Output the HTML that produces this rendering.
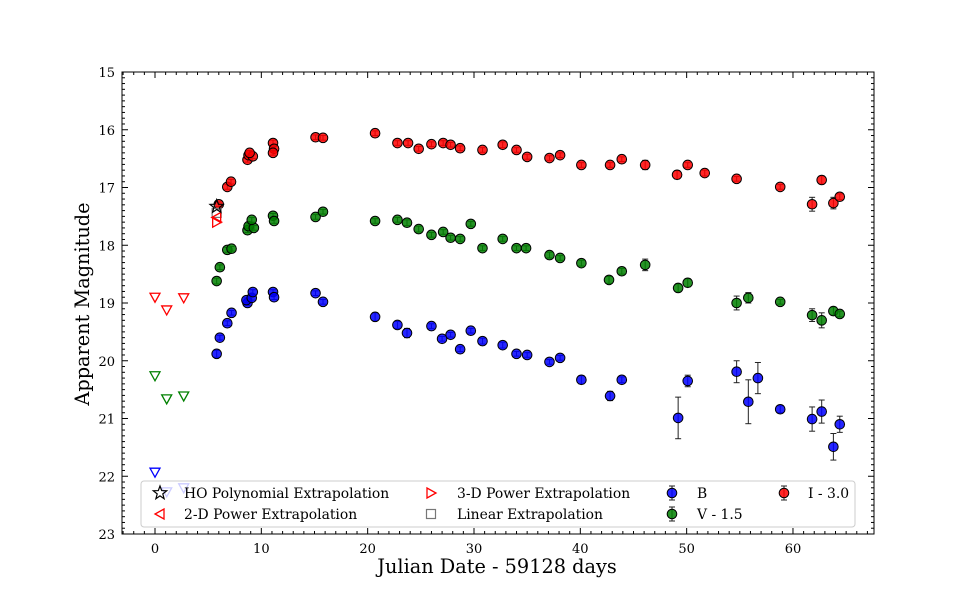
<!DOCTYPE html>
<html><head><meta charset="utf-8"><style>
html,body{margin:0;padding:0;background:#fff;}
svg{display:block;font-family:"DejaVu Serif","Liberation Serif",serif;}
</style></head><body>
<svg id="chart" width="970" height="600" viewBox="0 0 970 600" xmlns="http://www.w3.org/2000/svg"></svg>
<script>
const xTicks=[0,10,20,30,40,50,60];
const yTicks=[15,16,17,18,19,20,21,22,23];
const bDays=[5.8,6.1,6.8,7.2,8.7,8.6,9.1,9.2,11.1,11.2,15.1,15.8,20.7,22.8,23.7,26.0,27.0,27.8,28.7,29.7,30.8,32.7,34.0,35.0,37.1,38.1,40.1,42.8,43.9,49.2,50.1,54.7,55.8,56.7,58.8,61.8,62.7,63.8,64.4];
const bMag=[19.88,19.6,19.35,19.17,19.0,18.95,18.91,18.81,18.81,18.9,18.83,18.98,19.24,19.38,19.52,19.4,19.62,19.55,19.8,19.48,19.66,19.73,19.88,19.9,20.02,19.95,20.33,20.61,20.33,20.99,20.35,20.19,20.71,20.3,20.84,21.01,20.88,21.49,21.1];
const bErr=[0.06,0.04,0.04,0.04,0.04,0.04,0.04,0.04,0.04,0.04,0.04,0.04,0.07,0.06,0.08,0.04,0.04,0.04,0.04,0.04,0.05,0.05,0.04,0.04,0.04,0.04,0.07,0.08,0.05,0.36,0.1,0.19,0.38,0.27,0.06,0.21,0.2,0.23,0.14];
const vDays=[5.8,6.1,6.8,7.2,8.7,8.8,9.3,9.1,11.1,11.2,15.1,15.8,20.7,22.8,23.7,24.8,26.0,27.1,27.8,28.7,29.7,30.8,32.7,34.0,34.9,37.1,38.1,40.1,42.7,43.9,46.1,49.2,50.1,54.7,55.8,58.8,61.8,62.7,63.8,64.4];
const vMag=[18.62,18.38,18.08,18.06,17.74,17.67,17.70,17.56,17.49,17.58,17.51,17.42,17.58,17.56,17.61,17.72,17.82,17.77,17.87,17.89,17.63,18.05,17.89,18.05,18.05,18.17,18.22,18.31,18.6,18.45,18.34,18.74,18.65,19.0,18.91,18.98,19.21,19.3,19.14,19.19];
const vErr=[0.05,0.04,0.04,0.04,0.04,0.04,0.04,0.04,0.04,0.04,0.04,0.04,0.04,0.04,0.05,0.05,0.04,0.04,0.04,0.04,0.04,0.04,0.04,0.04,0.04,0.05,0.04,0.05,0.06,0.05,0.1,0.07,0.07,0.12,0.09,0.04,0.11,0.13,0.07,0.05];
const iDays=[6.0,6.8,7.15,8.7,8.8,9.2,8.9,11.1,11.2,11.1,15.1,15.8,20.7,22.8,23.8,24.8,26.0,27.1,27.8,28.7,30.8,32.7,34.0,35.0,37.1,38.1,40.1,42.8,43.9,46.1,49.1,50.1,51.7,54.7,58.8,61.8,62.7,63.8,64.4];
const iMag=[17.29,16.99,16.9,16.52,16.44,16.46,16.4,16.23,16.33,16.4,16.13,16.14,16.06,16.23,16.23,16.33,16.25,16.23,16.26,16.32,16.35,16.26,16.35,16.47,16.49,16.44,16.61,16.61,16.51,16.61,16.78,16.61,16.75,16.85,16.99,17.29,16.87,17.27,17.16];
const iErr=[0.04,0.04,0.04,0.04,0.04,0.04,0.04,0.05,0.05,0.04,0.04,0.04,0.04,0.04,0.04,0.04,0.04,0.04,0.04,0.04,0.04,0.05,0.04,0.04,0.04,0.04,0.04,0.04,0.04,0.08,0.07,0.04,0.05,0.04,0.04,0.12,0.07,0.1,0.05];
const limRedDays=[0,1.1,2.7], limRedMag=[18.9,19.12,18.91];
const limGreenDays=[0,1.1,2.7], limGreenMag=[20.26,20.66,20.61];
const limBlueDays=[0,1.1,2.7], limBlueMag=[21.93,22.27,22.2];
const starDay=[5.8], starMag=[17.33];
const sqDay=[5.8], sqMag=[17.44];
const lTriDay=[5.8], lTriMag=[17.52];
const rTriDay=[5.8], rTriMag=[17.6];

const svg=document.getElementById('chart');
const NS='http://www.w3.org/2000/svg';
const L=122,R=874,T=72,B=534;
const X=d=>155+d*10.633;
const Y=m=>T+(m-15)*(B-T)/8;
function mk(tag,attrs,parent){const e=document.createElementNS(NS,tag);for(const k in attrs)e.setAttribute(k,attrs[k]);(parent||svg).appendChild(e);return e;}

const ticks=mk('g',{});


for(let d=-3;d<=67;d++){
  const major=d%10===0, len=major?6:3, x=X(d);
  mk('line',{x1:x,x2:x,y1:B,y2:B-len,stroke:'#000','stroke-width':1},ticks);
  mk('line',{x1:x,x2:x,y1:T,y2:T+len,stroke:'#000','stroke-width':1},ticks);
}
for(let k=150;k<=230;k++){
  const m=k/10, major=k%10===0, len=major?6:3, y=Y(m);
  mk('line',{x1:L,x2:L+len,y1:y,y2:y,stroke:'#000','stroke-width':1},ticks);
  mk('line',{x1:R,x2:R-len,y1:y,y2:y,stroke:'#000','stroke-width':1},ticks);
}
xTicks.forEach(t=>{const e=mk('text',{x:X(t),y:B+19,'text-anchor':'middle','font-size':13});e.textContent=t;

});
yTicks.forEach(t=>{const e=mk('text',{x:L-7,y:Y(t)+5,'text-anchor':'end','font-size':13});e.textContent=t;

});

function tri(g,x,y,dir,col){
  const s=5;let p;
  if(dir==='down')p=[[x-s,y-s*0.8],[x+s,y-s*0.8],[x,y+s]];
  else if(dir==='left')p=[[x+s*0.8,y-s],[x+s*0.8,y+s],[x-s,y]];
  else p=[[x-s*0.8,y-s],[x-s*0.8,y+s],[x+s,y]];
  return mk('polygon',{points:p.map(q=>q.join(',')).join(' '),fill:'none',stroke:col,'stroke-width':1.3},g);
}
function limits(days,mags,col,name){
  const g=mk('g',{});
  
  
  days.forEach((d,i)=>tri(g,X(d),Y(mags[i]),'down',col));
}
limits(limRedDays,limRedMag,'#ff0000','i-band-upper-limits');
limits(limGreenDays,limGreenMag,'#008000','v-band-upper-limits');
limits(limBlueDays,limBlueMag,'#0000ff','b-band-upper-limits');

function series(days,mags,errs,col,name){
  const g=mk('g',{});
  
  
  days.forEach((d,i)=>{
    const x=X(d),y1=Y(mags[i]-errs[i]),y2=Y(mags[i]+errs[i]);
    mk('line',{x1:x,x2:x,y1:y1,y2:y2,stroke:'#222','stroke-width':1},g);
    mk('line',{x1:x-3,x2:x+3,y1:y1,y2:y1,stroke:'#222','stroke-width':1},g);
    mk('line',{x1:x-3,x2:x+3,y1:y2,y2:y2,stroke:'#222','stroke-width':1},g);
    mk('circle',{cx:x,cy:Y(mags[i]),r:4.8,fill:col,'fill-opacity':0.85,stroke:'#000','stroke-width':1},g);
  });
}
series(bDays,bMag,bErr,'#0000ff','b-band-series');
series(vDays,vMag,vErr,'#008000','v-band-series');
series(iDays,iMag,iErr,'#ff0000','i-band-series');

const ex=mk('g',{});


mk('rect',{x:X(sqDay[0])-4.5,y:Y(sqMag[0])-4.5,width:9,height:9,fill:'none',stroke:'#777','stroke-width':1.2},ex);
tri(ex,X(lTriDay[0]),Y(lTriMag[0]),'left','#ff0000');
tri(ex,X(rTriDay[0]),Y(rTriMag[0]),'right','#ff0000');
function star(g,x,y,r,col){const p=[];for(let k=0;k<10;k++){const a=-Math.PI/2+k*Math.PI/5,rr=k%2?r*0.42:r;p.push((x+rr*Math.cos(a)).toFixed(1)+','+(y+rr*Math.sin(a)).toFixed(1));}
return mk('polygon',{points:p.join(' '),fill:'none',stroke:col,'stroke-width':1.2},g);}
star(ex,X(starDay[0]),Y(starMag[0]),7,'#000');

mk('rect',{x:L,y:T,width:R-L,height:B-T,fill:'none',stroke:'#000','stroke-width':1});

// legend
const lg=mk('g',{});


mk('rect',{x:141,y:481,width:714,height:46,rx:3,fill:'#fff','fill-opacity':0.8,stroke:'#ccc','stroke-width':1},lg);
const r1=493,r2=514;
star(lg,160,r1,7,'#000');
tri(lg,160,r2,'left','#ff0000');
tri(lg,431,r1,'right','#ff0000');
mk('rect',{x:426.5,y:r2-4.5,width:9,height:9,fill:'none',stroke:'#777','stroke-width':1.2},lg);
[[672,r1,'#0000ff'],[672,r2,'#008000'],[784,r1,'#ff0000']].forEach(([x,y,c])=>{
  mk('line',{x1:x,x2:x,y1:y-7,y2:y+7,stroke:'#222','stroke-width':1},lg);
  mk('line',{x1:x-3,x2:x+3,y1:y-7,y2:y-7,stroke:'#222','stroke-width':1},lg);
  mk('line',{x1:x-3,x2:x+3,y1:y+7,y2:y+7,stroke:'#222','stroke-width':1},lg);
  mk('circle',{cx:x,cy:y,r:4.8,fill:c,'fill-opacity':0.85,stroke:'#000','stroke-width':1},lg);
});
[[184,r1,'HO Polynomial Extrapolation'],[184,r2,'2-D Power Extrapolation'],[457,r1,'3-D Power Extrapolation'],[457,r2,'Linear Extrapolation'],[697,r1,'B'],[697,r2,'V - 1.5'],[808,r1,'I - 3.0']].forEach(([x,y,t])=>{
  const e=mk('text',{x:x,y:y+5,'font-size':13.9},lg);e.textContent=t;
  
  
});

const xl=mk('text',{x:497,y:573,'text-anchor':'middle','font-size':19.3});xl.textContent='Julian Date - 59128 days';


const yl=mk('text',{x:0,y:0,'text-anchor':'middle','font-size':19.3,transform:'translate(89,304) rotate(-90)'});yl.textContent='Apparent Magnitude';


</script>
</body></html>
